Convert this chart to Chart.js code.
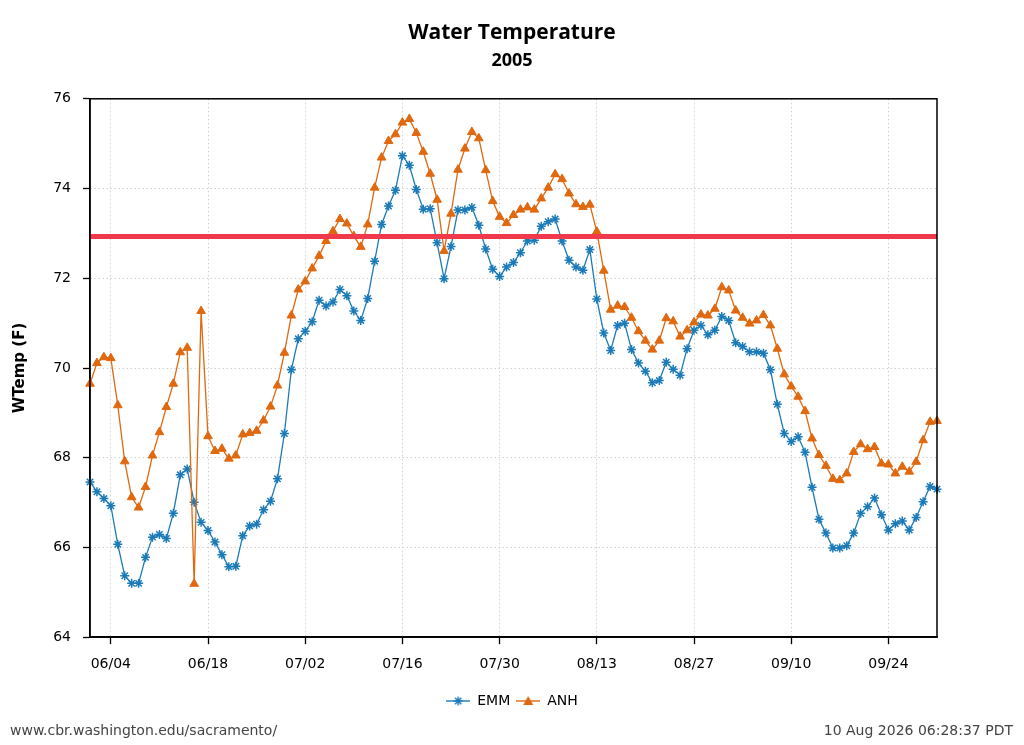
<!DOCTYPE html>
<html>
<head>
<meta charset="utf-8">
<title>Water Temperature 2005</title>
<script src="https://cdn.jsdelivr.net/npm/chart.js@4"></script>
<style>
  html, body { margin: 0; padding: 0; background: #fff; }
  #wrap { position: relative; width: 1024px; height: 745px; }
  #chart { position: absolute; left: 0; top: 0; }
  .foot { position: absolute; top: 722px; font: 14px "DejaVu Sans"; color: #444; }
</style>
</head>
<body>
<div id="wrap">
  <canvas id="chart" width="1024" height="745"></canvas>
  <div class="foot" style="left:10px">www.cbr.washington.edu/sacramento/</div>
  <div class="foot" style="right:11px">10 Aug 2026 06:28:37 PDT</div>
</div>
<script>
// ---- data: daily values from 06/01/2005 (day 0) to 10/01/2005 (day 122) ----
const emmTemps = [
  67.46, 67.24, 67.09, 66.93, 66.07, 65.37, 65.20, 65.20, 65.78, 66.23,
  66.29, 66.20, 66.76, 67.62, 67.75, 67.01, 66.56, 66.38, 66.12, 65.84,
  65.57, 65.58, 66.26, 66.48, 66.52, 66.84, 67.03, 67.53, 68.54, 69.96,
  70.65, 70.82, 71.03, 71.51, 71.38, 71.47, 71.75, 71.61, 71.27, 71.06,
  71.55, 72.38, 73.20, 73.61, 73.96, 74.73, 74.52, 73.98, 73.54, 73.55,
  72.79, 71.99, 72.71, 73.52, 73.52, 73.58, 73.18, 72.65, 72.20, 72.04,
  72.25, 72.35, 72.57, 72.83, 72.85, 73.16, 73.26, 73.32, 72.83, 72.40,
  72.25, 72.18, 72.64, 71.54, 70.78, 70.39, 70.95, 71.00, 70.41, 70.11,
  69.93, 69.67, 69.72, 70.13, 69.97, 69.84, 70.43, 70.84, 70.95, 70.74,
  70.84, 71.15, 71.06, 70.56, 70.48, 70.36, 70.36, 70.33, 69.96, 69.19,
  68.54, 68.36, 68.47, 68.12, 67.34, 66.63, 66.32, 65.99, 65.99, 66.04,
  66.32, 66.76, 66.91, 67.10, 66.73, 66.39, 66.53, 66.59, 66.39, 66.67,
  67.02, 67.36, 67.30
];
const anhTemps = [
  69.65, 70.11, 70.24, 70.22, 69.17, 67.92, 67.12, 66.89, 67.35, 68.05,
  68.57, 69.13, 69.65, 70.35, 70.45, 65.19, 71.27, 68.48, 68.15, 68.20,
  67.98, 68.05, 68.52, 68.55, 68.60, 68.83, 69.14, 69.61, 70.34, 71.17,
  71.75, 71.93, 72.22, 72.50, 72.83, 73.05, 73.32, 73.22, 72.94, 72.70,
  73.20, 74.02, 74.69, 75.06, 75.21, 75.47, 75.55, 75.24, 74.82, 74.33,
  73.75, 72.61, 73.44, 74.42, 74.89, 75.26, 75.12, 74.41, 73.72, 73.37,
  73.23, 73.41, 73.53, 73.58, 73.53, 73.78, 74.02, 74.32, 74.21, 73.89,
  73.65, 73.59, 73.64, 73.04, 72.17, 71.30, 71.39, 71.36, 71.12, 70.82,
  70.61, 70.41, 70.61, 71.11, 71.04, 70.70, 70.84, 71.02, 71.19, 71.17,
  71.32, 71.80, 71.73, 71.28, 71.12, 70.99, 71.06, 71.18, 70.95, 70.43,
  69.86, 69.59, 69.36, 69.04, 68.43, 68.06, 67.82, 67.53, 67.50, 67.65,
  68.13, 68.30, 68.19, 68.24, 67.87, 67.85, 67.65, 67.80, 67.69, 67.91,
  68.39, 68.80, 68.82
];
const thresholdTemp = 72.93;

// x ticks (day offset from 06/01) and their labels
const tickDays = [3, 17, 31, 45, 59, 73, 87, 101, 115];
const tickLabels = ["06/04", "06/18", "07/02", "07/16", "07/30", "08/13", "08/27", "09/10", "09/24"];
const lastDay = 122;

const EMM_COLOR = "#1b7bb8";
const ANH_COLOR = "#e0680f";

// small line+marker icons for the legend
function legendIcon(color, shape) {
  const c = document.createElement("canvas");
  c.width = 24; c.height = 12;
  const g = c.getContext("2d");
  g.strokeStyle = color; g.fillStyle = color; g.lineWidth = 1.4;
  g.beginPath(); g.moveTo(0, 6); g.lineTo(24, 6); g.stroke();
  if (shape === "triangle") {
    g.beginPath(); g.moveTo(12, 1); g.lineTo(17, 10); g.lineTo(7, 10); g.closePath(); g.fill();
  } else {
    g.beginPath();
    for (let a = 0; a < 4; a++) {
      const r = a * Math.PI / 4;
      g.moveTo(12 - 4.5 * Math.cos(r), 6 - 4.5 * Math.sin(r));
      g.lineTo(12 + 4.5 * Math.cos(r), 6 + 4.5 * Math.sin(r));
    }
    g.stroke();
  }
  return c;
}
const legendIcons = { EMM: legendIcon(EMM_COLOR, "star"), ANH: legendIcon(ANH_COLOR, "triangle") };

// black frame round the plot area
const frame = {
  id: "frame",
  afterDatasetsDraw(chart) {
    const { ctx, chartArea: a } = chart;
    ctx.save();
    ctx.strokeStyle = "#000";
    ctx.lineWidth = 1.5;
    ctx.strokeRect(a.left, a.top, a.right - a.left, a.bottom - a.top);
    ctx.restore();
  }
};

const toPoints = arr => arr.map((v, i) => ({ x: i, y: v }));
const gridOpts = { color: "#d2d2d2", lineWidth: 1, tickColor: "#000", tickWidth: 1.3, tickLength: 7 };

new Chart(document.getElementById("chart"), {
  type: "line",
  data: {
    datasets: [
      {
        label: "",
        data: [{ x: 0, y: thresholdTemp }, { x: lastDay, y: thresholdTemp }],
        borderColor: "#f03a4c",
        borderWidth: 5,
        pointRadius: 0,
        order: 0
      },
      {
        label: "EMM",
        data: toPoints(emmTemps),
        borderColor: EMM_COLOR,
        backgroundColor: EMM_COLOR,
        borderWidth: 1.3,
        pointStyle: "star",
        pointRadius: 4.5,
        pointBorderWidth: 1.5,
        clip: false,
        order: 2
      },
      {
        label: "ANH",
        data: toPoints(anhTemps),
        borderColor: ANH_COLOR,
        backgroundColor: ANH_COLOR,
        borderWidth: 1.3,
        pointStyle: "triangle",
        pointRadius: 5,
        pointBorderWidth: 1,
        clip: false,
        order: 1
      }
    ]
  },
  options: {
    responsive: false,
    animation: false,
    devicePixelRatio: 1,
    layout: { padding: { left: 0, right: 0, top: 0, bottom: 27 } },
    scales: {
      x: {
        type: "linear",
        min: 0,
        max: lastDay,
        afterBuildTicks: scale => { scale.ticks = tickDays.map(v => ({ value: v })); },
        afterFit: scale => { scale.height += 3; },
        ticks: {
          autoSkip: false,
          maxRotation: 0,
          padding: 12,
          color: "#000",
          font: { family: "DejaVu Sans", size: 14 },
          callback: v => tickLabels[tickDays.indexOf(v)]
        },
        grid: gridOpts,
        border: { color: "#000", width: 1.5, dash: [1.5, 2.5] }
      },
      y: {
        min: 64,
        max: 76,
        afterFit: scale => { scale.width = 90; },
        ticks: {
          stepSize: 2,
          padding: 12,
          color: "#000",
          font: { family: "DejaVu Sans", size: 14 }
        },
        grid: gridOpts,
        border: { color: "#000", width: 1.5, dash: [1.5, 2.5] },
        title: {
          display: true,
          text: "WTemp (F)",
          color: "#000",
          font: { family: "DejaVu Sans", size: 15, weight: "bold" },
          padding: { top: 11, bottom: 0 }
        }
      },
      // empty right-hand axis: only keeps the right margin so titles stay centred on the page
      yRight: {
        position: "right",
        min: 64,
        max: 76,
        afterFit: scale => { scale.width = 87; },
        ticks: { display: false },
        grid: { drawOnChartArea: false, drawTicks: false },
        border: { display: false }
      }
    },
    plugins: {
      title: {
        display: true,
        text: "Water Temperature",
        color: "#000",
        font: { family: "Open Sans", size: 21, weight: "bold" },
        padding: { top: 20, bottom: 3 }
      },
      subtitle: {
        display: true,
        text: "2005",
        color: "#000",
        font: { family: "Open Sans", size: 18, weight: "bold" },
        padding: { top: 2, bottom: 27 }
      },
      legend: {
        position: "bottom",
        labels: {
          usePointStyle: true,
          pointStyleWidth: 24,
          boxHeight: 12,
          padding: 6,
          color: "#000",
          font: { family: "DejaVu Sans", size: 14 },
          filter: item => item.text !== "",
          sort: (a, b) => a.datasetIndex - b.datasetIndex,
          generateLabels: chart =>
            Chart.defaults.plugins.legend.labels.generateLabels(chart)
              .map(item => Object.assign(item, { pointStyle: legendIcons[item.text] || item.pointStyle }))
        }
      },
      tooltip: { enabled: false }
    }
  },
  plugins: [frame]
});
</script>
</body>
</html>
